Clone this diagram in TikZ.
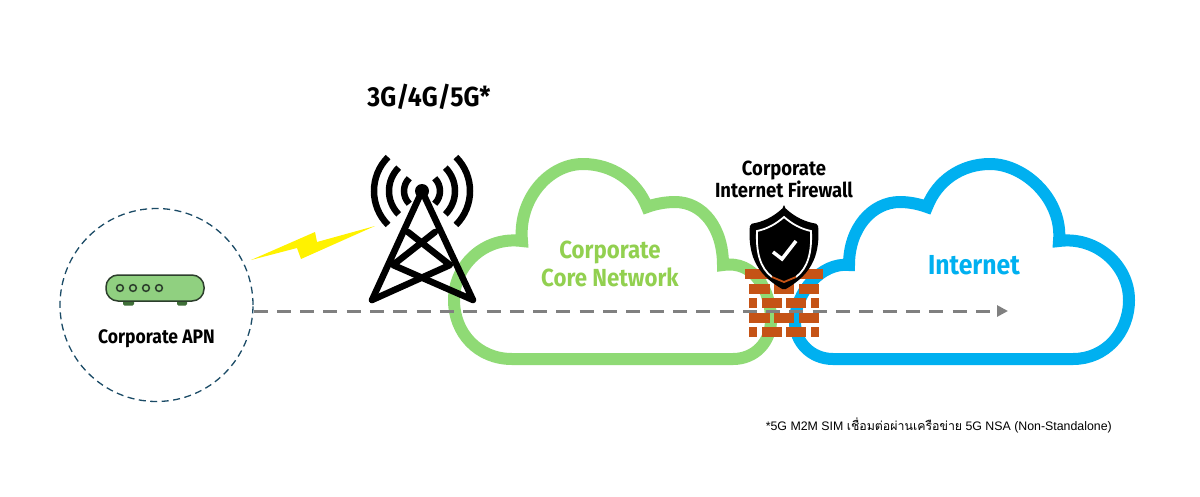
\documentclass[tikz,border=0pt]{standalone}
\usepackage{fontspec}
\setmainfont{Liberation Sans}
\newfontfamily\labelfont[FakeStretch=0.9]{Fira Sans}
\newfontfamily\thaifont[Script=Thai]{Loma}
\usetikzlibrary{arrows.meta,shapes,positioning}
\definecolor{coregreen}{HTML}{8FDA75}
\definecolor{coretext}{HTML}{92D050}
\definecolor{netblue}{HTML}{00B0F0}
\definecolor{brickred}{HTML}{C55316}
\definecolor{routergreen}{HTML}{90D080}
\definecolor{routerdark}{HTML}{2C3E2C}
\definecolor{footgreen}{HTML}{3F6F38}
\definecolor{circleblue}{HTML}{1B4B66}
\definecolor{pathgray}{HTML}{808080}

\begin{document}
\begin{tikzpicture}[
        x=1pt, y=-1pt,
        every node/.style={inner sep=0pt, align=center},
        cloudline/.style={line width=12pt, line join=miter, miter limit=10},
        towerline/.style={line width=6.5pt, line cap=round, line join=round},
        waveline/.style={line width=6.5pt},
        brick/.style={fill=brickred},
        biglabel/.style={font=\labelfont\bfseries\fontsize{27.5}{32}\selectfont},
        greenlabel/.style={text=coretext, font=\labelfont\bfseries\fontsize{24.7}{28.5}\selectfont},
        bluelabel/.style={text=netblue, font=\labelfont\bfseries\fontsize{27.5}{32}\selectfont},
        blacklabel/.style={font=\labelfont\bfseries\fontsize{19.5}{22}\selectfont},
        firewalllabel/.style={font=\labelfont\bfseries\fontsize{20.5}{22}\selectfont}
    ]
    \useasboundingbox (0,0) rectangle (1200,496);

    % Clouds
    \draw[cloudline, coregreen] (512,359)
        .. controls (478,359) and (454,333) .. (454,300)
        .. controls (454,265) and (485,236) .. (522,241)
        .. controls (518,200) and (548,164) .. (583,164)
        .. controls (612,164) and (637,181) .. (647,207)
        .. controls (655,204) and (665,202) .. (675,202)
        .. controls (703,202) and (723,228) .. (723,265)
        .. controls (755,260) and (771,292) .. (771,320)
        .. controls (771,342) and (755,359) .. (733,359)
        -- cycle;
    \draw[cloudline, netblue] (1073,359)
        .. controls (1105,359) and (1129,333) .. (1129,300)
        .. controls (1129,265) and (1096,236) .. (1059,241)
        .. controls (1063,200) and (1025,164) .. (990,164)
        .. controls (961,164) and (937,181) .. (927,207)
        .. controls (919,204) and (909,202) .. (900,202)
        .. controls (872,202) and (849,228) .. (849,265)
        .. controls (822,262) and (795,292) .. (795,322)
        .. controls (795,342) and (811,359) .. (833,359)
        -- cycle;

    % Nodes
    \node[draw=circleblue, line width=1.3pt, dash pattern=on 7pt off 4.5pt, circle, minimum size=193pt] (apn) at (156.5,305) {};
    \node[blacklabel] (apnlabel) at (156.5,338.5) {Corporate APN};
    \node[biglabel] (gen) at (429,97) {3G/4G/5G*};
    \node[firewalllabel] (fwlabel) at (784,179) {Corporate\\Internet Firewall};
    \node[greenlabel] (corelabel) at (610,264) {Corporate\\Core Network};
    \node[bluelabel] (netlabel) at (974,265) {Internet};
    \node[anchor=east, font=\fontsize{12.35}{15}\selectfont] (note) at (1112,425) {*5G M2M SIM {\thaifont เชื่อมต่อผ่านเครือข่าย} 5G NSA (Non-Standalone)};

    % Router
    \fill[footgreen, rounded corners=1.5pt] (123,298) rectangle (134,305.5);
    \fill[footgreen, rounded corners=1.5pt] (177,298) rectangle (187,305.5);
    \node[draw=routerdark, fill=routergreen, line width=1.5pt, rounded corners=12pt, minimum width=98pt, minimum height=26pt] (router) at (155,288) {};
    \foreach \x in {120,133,146,159}
        \draw[routerdark, line width=1.5pt, fill=routergreen] (\x,288) circle[radius=3.4pt];

    % Lightning
    \fill[yellow] (251,260) -- (315,232) -- (317,242) -- (375,226) -- (301,259) -- (297,248) -- cycle;

    % Tower
    \node[fill=black, circle, minimum size=14pt] (mast) at (422,191) {};
    \coordinate (leftfoot) at (372,300);
    \coordinate (rightfoot) at (473,300);
    \coordinate (leftmid) at (393,265);
    \coordinate (rightmid) at (450,265);
    \coordinate (lefttop) at (408,232);
    \coordinate (righttop) at (435,232);
    \draw[towerline] (leftfoot) -- (mast.center) -- (rightfoot) -- (leftmid) -- (righttop);
    \draw[towerline] (leftfoot) -- (rightmid) -- (lefttop);
    \foreach \r in {18,33,48} {
        \draw[waveline] ([shift={(135:\r pt)}]mast.center) arc[start angle=135, end angle=225, radius=\r pt];
        \draw[waveline] ([shift={(-45:\r pt)}]mast.center) arc[start angle=-45, end angle=45, radius=\r pt];
    }

    % Bricks
    \fill[brick] (745,269) rectangle (823,279);
    \foreach \y in {284,313} {
        \fill[brick] (749,\y) rectangle (770,\y+9.5);
        \fill[brick] (774,\y) rectangle (794,\y+9.5);
        \fill[brick] (799,\y) rectangle (819,\y+9.5);
    }
    \foreach \y in {298,327} {
        \fill[brick] (749,\y) rectangle (757,\y+9.5);
        \fill[brick] (762,\y) rectangle (782,\y+9.5);
        \fill[brick] (786,\y) rectangle (806,\y+9.5);
        \fill[brick] (811,\y) rectangle (819,\y+9.5);
    }

    % Shield
    \fill[black, rounded corners=2pt] (784,207) .. controls (796,218) and (806,222) .. (818,224)
        .. controls (820,252) and (814,273) .. (784,290)
        .. controls (754,273) and (748,252) .. (750,224)
        .. controls (762,222) and (772,218) .. (784,207) -- cycle;
    \draw[white, line width=1.8pt] (772,277) .. controls (760,268) and (756,252) .. (757,231)
        .. controls (767,229) and (776,224) .. (784,217)
        .. controls (792,224) and (801,229) .. (811,231)
        .. controls (812,252) and (808,268) .. (796,277);
    \draw[brickred, line width=1.8pt] (772,277) -- (784,282) -- (796,277);
    \draw[white, line width=3.5pt] (773,252) -- (782,259) -- (796,241);

    % Path
    \coordinate (pathend) at (1008,311);
    \draw[pathgray, line width=3pt, dash pattern=on 14pt off 9.3pt, -{Triangle[length=11pt, width=11pt]}] (apn.-3.5 |- pathend) -- (pathend);

\end{tikzpicture}
\end{document}
